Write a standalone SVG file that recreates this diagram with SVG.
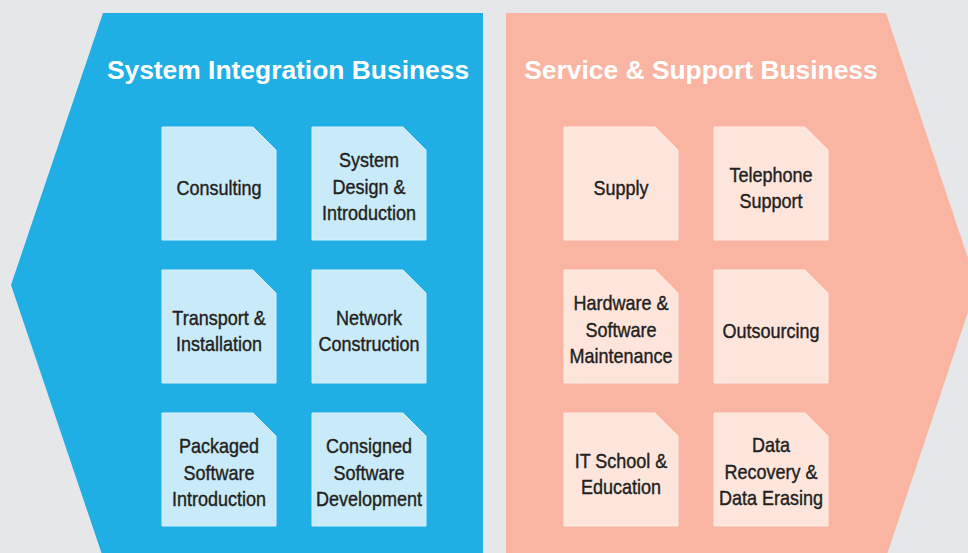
<svg xmlns="http://www.w3.org/2000/svg" width="968" height="553" viewBox="0 0 968 553">
<style>
.bg{fill:#e6e7e8}
.blue{fill:#20afe5}
.salmon{fill:#f9b5a2}
.cb{fill:#c9eaf9;stroke:#d6f0fb;stroke-width:1}
.cs{fill:#fde5dc;stroke:#fdebe4;stroke-width:1}
.head{font-family:"Liberation Sans",Arial,sans-serif;font-weight:bold;font-size:26.4px;fill:#ffffff;text-anchor:middle}
.lbl{font-family:"Liberation Sans",Arial,sans-serif;font-size:20px;fill:#231f20;stroke:#231f20;stroke-width:0.4;text-anchor:middle}
</style>
<defs>
<path id="card" d="M0,0 H91 L114,23 V113 H0 Z"/>
</defs>
<rect class="bg" x="0" y="0" width="968" height="553"/>
<g id="panel-si">
<polygon class="blue" points="103,13 483,13 483,553 101.5,553 11,285"/>
<text class="head" x="288" y="79">System Integration Business</text>
</g>
<g id="panel-ss">
<polygon class="salmon" points="506,13 886,13 977,285 887.5,553 506,553"/>
<text class="head" x="701" y="79">Service &amp; Support Business</text>
</g>
<g id="connectors"/>
<g id="consulting" transform="translate(162,127)">
<use href="#card" class="cb"/>
<g transform="translate(57,0) scale(0.9 1)"><text class="lbl" x="0" y="68">Consulting</text></g>
</g>
<g id="system-design" transform="translate(312,127)">
<use href="#card" class="cb"/>
<g transform="translate(57,0) scale(0.9 1)"><text class="lbl" x="0" y="40.5">System</text><text class="lbl" x="0" y="67">Design &amp;</text><text class="lbl" x="0" y="93.5">Introduction</text></g>
</g>
<g id="transport" transform="translate(162,270)">
<use href="#card" class="cb"/>
<g transform="translate(57,0) scale(0.9 1)"><text class="lbl" x="0" y="55">Transport &amp;</text><text class="lbl" x="0" y="81">Installation</text></g>
</g>
<g id="network" transform="translate(312,270)">
<use href="#card" class="cb"/>
<g transform="translate(57,0) scale(0.9 1)"><text class="lbl" x="0" y="55">Network</text><text class="lbl" x="0" y="81">Construction</text></g>
</g>
<g id="packaged" transform="translate(162,413)">
<use href="#card" class="cb"/>
<g transform="translate(57,0) scale(0.9 1)"><text class="lbl" x="0" y="40.5">Packaged</text><text class="lbl" x="0" y="67">Software</text><text class="lbl" x="0" y="93.5">Introduction</text></g>
</g>
<g id="consigned" transform="translate(312,413)">
<use href="#card" class="cb"/>
<g transform="translate(57,0) scale(0.9 1)"><text class="lbl" x="0" y="40.5">Consigned</text><text class="lbl" x="0" y="67">Software</text><text class="lbl" x="0" y="93.5">Development</text></g>
</g>
<g id="supply" transform="translate(564,127)">
<use href="#card" class="cs"/>
<g transform="translate(57,0) scale(0.9 1)"><text class="lbl" x="0" y="68">Supply</text></g>
</g>
<g id="telephone" transform="translate(714,127)">
<use href="#card" class="cs"/>
<g transform="translate(57,0) scale(0.9 1)"><text class="lbl" x="0" y="55">Telephone</text><text class="lbl" x="0" y="81">Support</text></g>
</g>
<g id="maintenance" transform="translate(564,270)">
<use href="#card" class="cs"/>
<g transform="translate(57,0) scale(0.9 1)"><text class="lbl" x="0" y="40.5">Hardware &amp;</text><text class="lbl" x="0" y="67">Software</text><text class="lbl" x="0" y="93.5">Maintenance</text></g>
</g>
<g id="outsourcing" transform="translate(714,270)">
<use href="#card" class="cs"/>
<g transform="translate(57,0) scale(0.9 1)"><text class="lbl" x="0" y="68">Outsourcing</text></g>
</g>
<g id="it-school" transform="translate(564,413)">
<use href="#card" class="cs"/>
<g transform="translate(57,0) scale(0.9 1)"><text class="lbl" x="0" y="55">IT School &amp;</text><text class="lbl" x="0" y="81.5">Education</text></g>
</g>
<g id="data-recovery" transform="translate(714,413)">
<use href="#card" class="cs"/>
<g transform="translate(57,0) scale(0.9 1)"><text class="lbl" x="0" y="39.5">Data</text><text class="lbl" x="0" y="66">Recovery &amp;</text><text class="lbl" x="0" y="92.5">Data Erasing</text></g>
</g>
</svg>
